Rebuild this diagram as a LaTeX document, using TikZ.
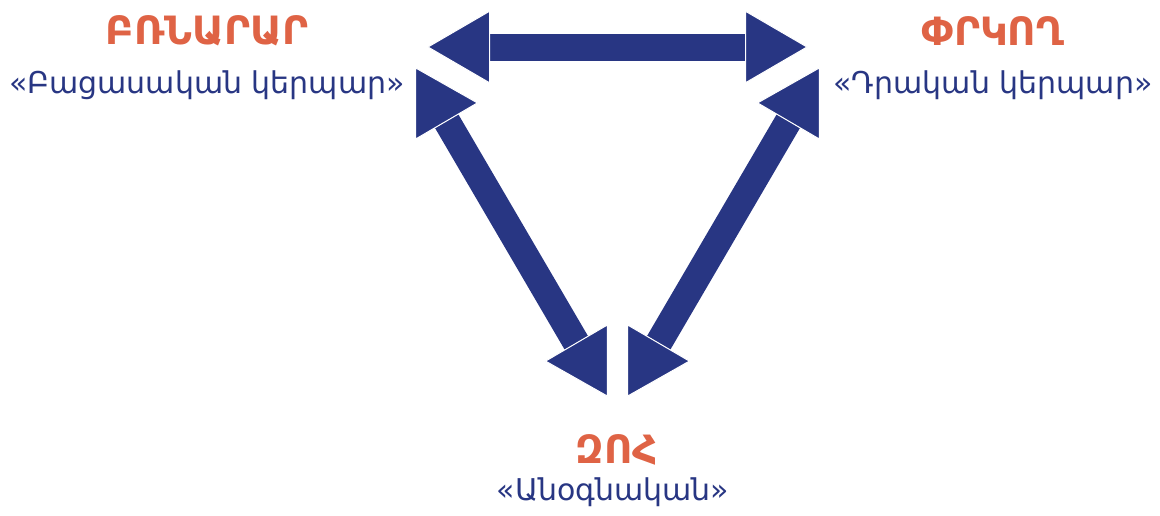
\documentclass[tikz,border=0pt]{standalone}
\usepackage{fontspec}
\setmainfont{DejaVu Sans}
\usetikzlibrary{arrows.meta}
\definecolor{navy}{RGB}{40,54,131}
\definecolor{rust}{RGB}{223,99,69}

\begin{document}
\begin{tikzpicture}[
  x=1pt,y=-1pt,
  head/.tip={Triangle[length=63pt,width=73pt,fill=navy,color=white,line width=1pt]},
  link/.style={draw=navy,line width=27pt,head-head},
  role/.style={anchor=base,text=rust,font=\fontsize{39}{47}\bfseries\selectfont,inner sep=0pt},
  trait/.style={anchor=base,text=navy,font=\fontsize{30}{36}\selectfont,inner sep=0pt}
]
  \useasboundingbox (0,0) rectangle (1160,515);

  % arrow tips
  \coordinate (topL) at (427,47);
  \coordinate (topR) at (808,47);
  \coordinate (leftT) at (415,67);
  \coordinate (leftB) at (608,397);
  \coordinate (rightT) at (820,67);
  \coordinate (rightB) at (627,397);

  \draw[link] (topL) -- (topR);
  \draw[link] (leftT) -- (leftB);
  \draw[link] (rightT) -- (rightB);

  % roles
  \node[role] (bnarar) at (207,44) {ԲՌՆԱՐԱՐ};
  \node[trait] (bnararsub) at (207,93) {«Բացասական կերպար»};
  \node[role] (prkogh) at (993,45) {ՓՐԿՈՂ};
  \node[trait] (prkoghsub) at (993,93) {«Դրական կերպար»};
  \node[role] (zoh) at (617,463) {ԶՈՀ};
  \node[trait] (zohsub) at (613,500) {«Անօգնական»};
\end{tikzpicture}
\end{document}
